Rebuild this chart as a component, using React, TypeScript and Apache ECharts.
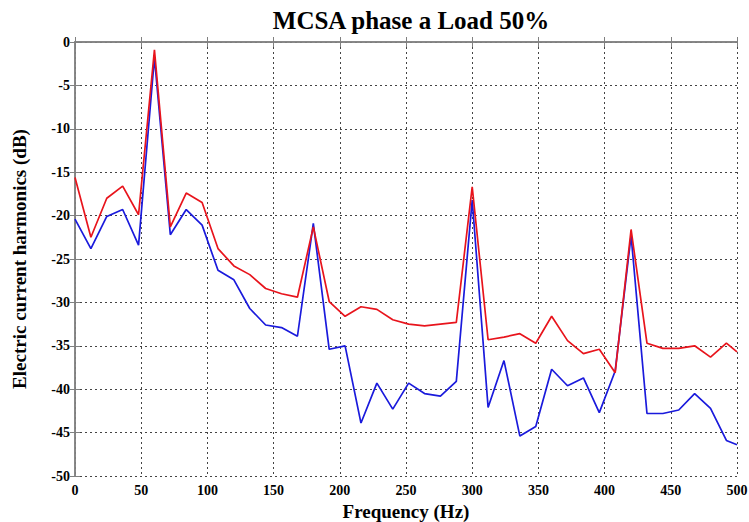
import React, { useEffect, useRef } from "react";
import * as echarts from "echarts";

const frequencies = [0, 12, 24, 36, 48, 60, 72, 84, 96, 108, 120, 132, 144, 156, 168, 180, 192, 204, 216, 228, 240, 252, 264, 276, 288, 300, 312, 324, 336, 348, 360, 372, 384, 396, 408, 420, 432, 444, 456, 468, 480, 492, 500];

const redValues = [-15.6, -22.5, -18.0, -16.6, -19.9, -0.9, -21.3, -17.4, -18.5, -23.8, -25.8, -26.8, -28.4, -29.0, -29.4, -21.3, -29.9, -31.6, -30.5, -30.8, -32.0, -32.5, -32.7, -32.5, -32.3, -16.7, -34.3, -34.0, -33.6, -34.7, -31.6, -34.4, -35.9, -35.4, -38.1, -21.6, -34.7, -35.3, -35.3, -35.0, -36.3, -34.7, -35.7];

const blueValues = [-20.4, -23.8, -20.1, -19.3, -23.4, -1.8, -22.2, -19.3, -21.1, -26.3, -27.4, -30.7, -32.6, -32.9, -33.9, -20.9, -35.4, -35.0, -43.9, -39.3, -42.3, -39.3, -40.5, -40.8, -39.1, -18.2, -42.1, -36.7, -45.4, -44.3, -37.7, -39.6, -38.7, -42.7, -37.9, -22.3, -42.8, -42.8, -42.4, -40.5, -42.2, -45.9, -46.4];

const titleText = "MCSA phase a Load 50%";
const xName = "Frequency (Hz)";
const yName = "Electric current harmonics (dB)";

export default function App() {
  const ref = useRef<HTMLDivElement>(null);
  useEffect(() => {
    document.body.style.margin = "0";
    const chart = echarts.init(ref.current!, null, { renderer: "svg" });
    const font = "'Liberation Serif', 'Times New Roman', serif";
    const axisLine = { show: true, lineStyle: { color: "#808080", width: 1.5 } };
    const splitLine = { show: true, lineStyle: { color: "#444", type: [2, 3] as any, width: 1 } };
    chart.setOption({
      animation: false,
      backgroundColor: "#ffffff",
      title: {
        text: titleText,
        left: 406,
        top: 3,
        textAlign: "center",
        textStyle: { fontFamily: font, fontWeight: "bold", fontSize: 25, color: "#000" },
      },
      grid: { left: 75, right: 12, top: 42, bottom: 46, containLabel: false, outerBoundsMode: "none" },
      xAxis: [
        {
          type: "value",
          min: 0,
          max: 500,
          interval: 50,
          name: xName,
          nameLocation: "middle",
          nameGap: 23,
          nameTextStyle: { fontFamily: font, fontWeight: "bold", fontSize: 19, color: "#000" },
          axisLine,
          axisTick: { show: true, inside: true, length: 5, lineStyle: { color: "#808080" } },
          axisLabel: { fontFamily: font, fontWeight: "bold", fontSize: 14, color: "#000", margin: 7 },
          splitLine,
        },
        {
          type: "value",
          position: "top",
          min: 0,
          max: 500,
          interval: 50,
          axisLine,
          axisTick: { show: true, inside: true, length: 5, lineStyle: { color: "#808080" } },
          axisLabel: { show: false },
          splitLine: { show: false },
        },
      ],
      yAxis: [
        {
          type: "value",
          min: -50,
          max: 0,
          interval: 5,
          name: yName,
          nameLocation: "middle",
          nameGap: 46,
          nameTextStyle: { fontFamily: font, fontWeight: "bold", fontSize: 19, color: "#000" },
          axisLine,
          axisTick: { show: true, inside: true, length: 5, lineStyle: { color: "#808080" } },
          axisLabel: { fontFamily: font, fontWeight: "bold", fontSize: 14, color: "#000", margin: 5 },
          splitLine,
        },
        {
          type: "value",
          position: "right",
          min: -50,
          max: 0,
          interval: 5,
          axisLine,
          axisTick: { show: true, inside: true, length: 5, lineStyle: { color: "#808080" } },
          axisLabel: { show: false },
          splitLine: { show: false },
        },
      ],
      series: [
        {
          type: "line",
          name: "blue",
          data: frequencies.map((f, i) => [f, blueValues[i]]),
          showSymbol: false,
          lineStyle: { color: "#1a1adc", width: 1.7 },
          z: 2,
        },
        {
          type: "line",
          name: "red",
          data: frequencies.map((f, i) => [f, redValues[i]]),
          showSymbol: false,
          lineStyle: { color: "#e8141c", width: 1.7 },
          z: 3,
        },
      ],
    });
    return () => chart.dispose();
  }, []);
  return <div ref={ref} style={{ width: 749, height: 522 }} />;
}
